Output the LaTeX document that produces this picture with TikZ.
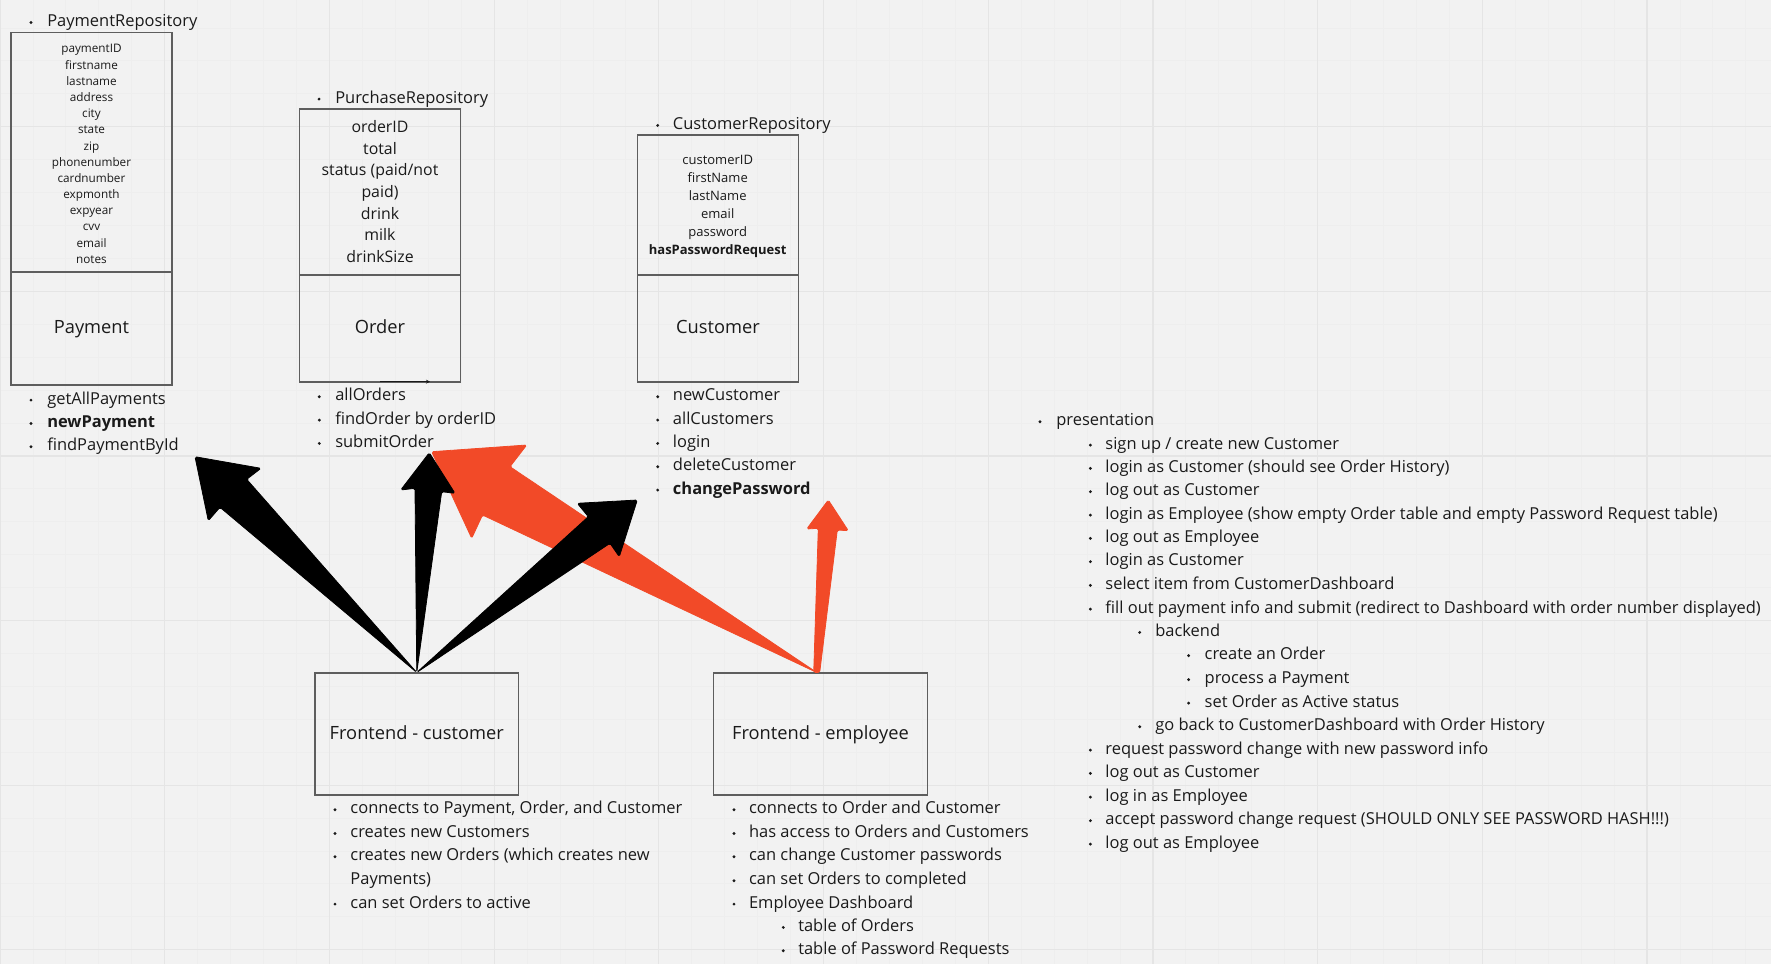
\documentclass[tikz,border=0pt]{standalone}
\usepackage{fontspec}
\setmainfont{Open Sans}
\usetikzlibrary{calc,arrows.meta}
\definecolor{bg}{HTML}{F2F2F2}
\definecolor{gridmin}{HTML}{EEEEEE}
\definecolor{gridmaj}{HTML}{E5E5E5}
\definecolor{ink}{HTML}{1A1A1A}
\definecolor{boxc}{HTML}{5E5E5E}
\definecolor{mred}{HTML}{F24A28}
\newcommand\bitem[5]{\node[bul] (#1b) at (#2,#4) {}; \node[lst] (#1) at (#3,#4) {#5};}
\begin{document}
\begin{tikzpicture}[x=0.75pt,y=-0.75pt,
  every node/.style={inner sep=0pt, text=ink},
  lst/.style={anchor=mid west, yshift=-2.2pt, font=\fontsize{12.35}{14}\selectfont},
  bul/.style={circle, fill=ink, minimum size=2.4pt, yshift=-1.8pt},
  boxst/.style={draw=boxc, line width=0.8pt, rectangle, font=\fontsize{13.7}{16}\selectfont, text height=0.9em, text depth=0.08em},
  attP/.style={anchor=mid, yshift=-2pt, font=\fontsize{8.8}{10}\selectfont},
  attO/.style={anchor=mid, yshift=-2.2pt, font=\fontsize{11.9}{14}\selectfont},
  attC/.style={anchor=mid, yshift=-2pt, font=\fontsize{9.75}{12}\selectfont},
  blk/.style={fill=black, draw=black, line width=0.6pt, line join=round, rounded corners=1.2pt},
  red/.style={fill=mred, draw=mred, line width=0.6pt, line join=round, rounded corners=1.2pt}]
\useasboundingbox (0,0) rectangle (1771,964);
\fill[bg] (0,0) rectangle (1771,964);
% grid
\foreach \k in {0,...,53}{\draw[gridmin, line width=0.6pt] ({32.94*\k},0) -- ({32.94*\k},964);}
\foreach \k in {0,...,28}{\draw[gridmin, line width=0.6pt] (0,{27.94+32.92*\k}) -- (1771,{27.94+32.92*\k});}
\foreach \k in {0,...,10}{\draw[gridmaj, line width=0.9pt] ({164.7*\k},0) -- ({164.7*\k},964);}
\foreach \k in {0,...,5}{\draw[gridmaj, line width=0.9pt] (0,{126.7+164.6*\k}) -- (1771,{126.7+164.6*\k});}

% ---------- Payment ----------
\bitem{prep}{31}{47}{20}{PaymentRepository}
\node[boxst, minimum width=120.75pt, minimum height=179.6pt] (payattr) at (91.5,152.25) {};
\node[boxst, minimum width=120.75pt, minimum height=84.75pt] (payment) at (91.5,328.5) {Payment};
\foreach \t [count=\i] in {paymentID,firstname,lastname,address,city,state,zip,phonenumber,cardnumber,expmonth,expyear,cvv,email,notes}
  {\node[attP] (pa\i) at (91.5,{46.7+(\i-1)*16.18}) {\t};}
\bitem{pm1}{31}{47}{397.7}{getAllPayments}
\bitem{pm2}{31}{47}{421}{\textbf{newPayment}}
\bitem{pm3}{31}{47}{444.3}{findPaymentById}

% ---------- Order ----------
\bitem{orep}{319}{335}{96.7}{PurchaseRepository}
\node[boxst, minimum width=120.75pt, minimum height=124.5pt] (ordattr) at (380,192) {};
\node[boxst, minimum width=120.75pt, minimum height=80.25pt] (order) at (380,328.5) {Order};
\foreach \t [count=\i] in {orderID,total,status (paid/not,paid),drink,milk,drinkSize}
  {\node[attO] (oa\i) at (380,{126+(\i-1)*21.67}) {\t};}
\coordinate (ol1) at (380,381.7);
\coordinate (ol2) at (430,381.7);
\draw[ink, line width=0.9pt, -{Stealth[length=3pt,width=3pt]}] (ol1) -- (ol2);
\bitem{om1}{319.3}{335}{394.3}{allOrders}
\bitem{om2}{319.3}{335}{417.7}{findOrder by orderID}
\bitem{om3}{319.3}{335}{441}{submitOrder}

% ---------- Customer ----------
\bitem{crep}{657.7}{672.7}{123}{CustomerRepository}
\node[boxst, minimum width=120.75pt, minimum height=105pt] (cusattr) at (718,205) {};
\node[boxst, minimum width=120.75pt, minimum height=80.25pt] (customer) at (718,328.5) {Customer};
\foreach \t [count=\i] in {customerID,firstName,lastName,email,password,{\textbf{hasPasswordRequest}}}
  {\node[attC] (ca\i) at (717.7,{158.3+(\i-1)*18}) {\t};}
\bitem{cm1}{657.7}{672.7}{394.3}{newCustomer}
\bitem{cm2}{657.7}{672.7}{417.7}{allCustomers}
\bitem{cm3}{657.7}{672.7}{441}{login}
\bitem{cm4}{657.7}{672.7}{464.3}{deleteCustomer}
\bitem{cm5}{657.7}{672.7}{487.7}{\textbf{changePassword}}

% ---------- Frontends ----------
\node[boxst, minimum width=152.6pt, minimum height=91.5pt] (fc) at (416.75,734) {Frontend - customer};
\node[boxst, minimum width=160.5pt, minimum height=91.5pt] (fe) at (820.5,734) {Frontend - employee};

\bitem{fc1}{335}{350.2}{807.3}{connects to Payment, Order, and Customer}
\bitem{fc2}{335}{350.2}{831}{creates new Customers}
\bitem{fc3}{335}{350.2}{854.3}{creates new Orders (which creates new}
\node[lst] (fc3b) at (350.2,878.3) {Payments)};
\bitem{fc4}{335}{350.2}{901.7}{can set Orders to active}

\bitem{fe1}{734}{748.8}{807.3}{connects to Order and Customer}
\bitem{fe2}{734}{748.8}{831}{has access to Orders and Customers}
\bitem{fe3}{734}{748.8}{854.3}{can change Customer passwords}
\bitem{fe4}{734}{748.8}{878.3}{can set Orders to completed}
\bitem{fe5}{734}{748.8}{901.7}{Employee Dashboard}
\bitem{fe6}{783.3}{798}{925}{table of Orders}
\bitem{fe7}{783.3}{798}{948.3}{table of Password Requests}

% ---------- Presentation ----------
\bitem{pr0}{1040}{1056}{419.3}{presentation}
\bitem{pr1}{1090.4}{1105.2}{442.7}{sign up / create new Customer}
\bitem{pr2}{1090.4}{1105.2}{466}{login as Customer (should see Order History)}
\bitem{pr3}{1090.4}{1105.2}{489.3}{log out as Customer}
\bitem{pr4}{1090.4}{1105.2}{512.7}{login as Employee (show empty Order table and empty Password Request table)}
\bitem{pr5}{1090.4}{1105.2}{536}{log out as Employee}
\bitem{pr6}{1090.4}{1105.2}{559.3}{login as Customer}
\bitem{pr7}{1090.4}{1105.2}{583}{select item from CustomerDashboard}
\bitem{pr8}{1090.4}{1105.2}{606.7}{fill out payment info and submit (redirect to Dashboard with order number displayed)}
\bitem{pr9}{1139.7}{1155}{630}{backend}
\bitem{pr10}{1188.6}{1204.4}{653.3}{create an Order}
\bitem{pr11}{1188.6}{1204.4}{677.3}{process a Payment}
\bitem{pr12}{1188.6}{1204.4}{700.7}{set Order as Active status}
\bitem{pr13}{1139.7}{1155}{724.3}{go back to CustomerDashboard with Order History}
\bitem{pr14}{1090.4}{1105.2}{747.7}{request password change with new password info}
\bitem{pr15}{1090.4}{1105.2}{771}{log out as Customer}
\bitem{pr16}{1090.4}{1105.2}{794.7}{log in as Employee}
\bitem{pr17}{1090.4}{1105.2}{818.3}{accept password change request (SHOULD ONLY SEE PASSWORD HASH!!!)}
\bitem{pr18}{1090.4}{1105.2}{841.7}{log out as Employee}

% ---------- Arrows ----------
\coordinate (tipP) at (195,456.7);
\coordinate (tipO) at (429.3,452.7);
\coordinate (tipC) at (637.3,500);
\coordinate (tipO2) at (431.7,451.7);
\coordinate (tipCP) at (828.3,500);
\coordinate (eo) at ($(fe.north)+(-3.8,0)$);
% red (employee)
\fill[red] (eo) -- (510,466.7) -- (526.7,445) -- (tipO2) -- (471.7,538.3) -- (482.5,515) -- cycle;
\fill[red] ($(eo)+(-3,0)$) -- (818.3,528.3) -- (806.7,529) -- (tipCP) -- (848.3,530.7) -- (837.3,530) -- ($(eo)+(3,0)$) -- cycle;
% black (customer)
\fill[blk] (fc.north) -- (246.7,479.3) -- (261,468.3) -- (tipP) -- (208.3,520.7) -- (220,507.3) -- cycle;
\fill[blk] (fc.north) -- (441.7,491.7) -- (455,493.3) -- (tipO) -- (400.7,490) -- (415,488.3) -- cycle;
\fill[blk] (fc.north) -- (588.3,516.7) -- (577.3,503.3) -- (tipC) -- (619.3,556.7) -- (610,543.3) -- cycle;
\end{tikzpicture}
\end{document}
